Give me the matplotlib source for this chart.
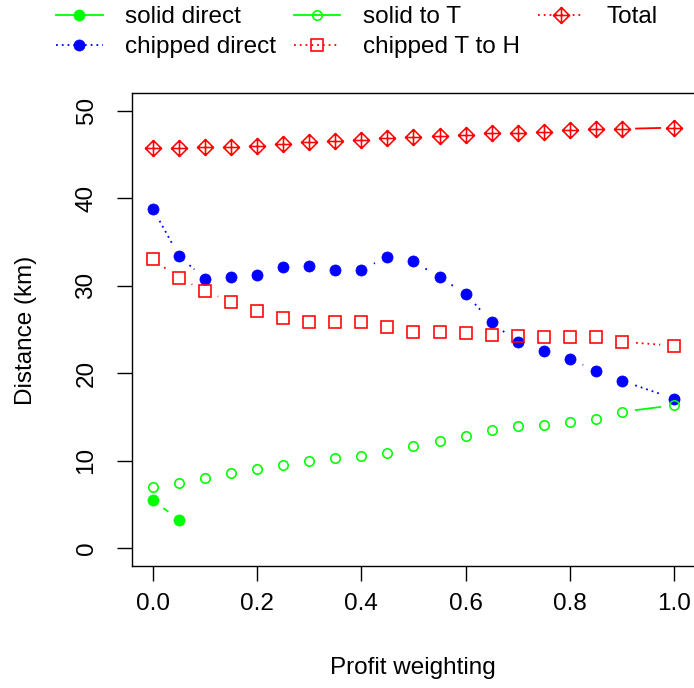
import numpy as np
import matplotlib
matplotlib.use('Agg')
import matplotlib.pyplot as plt
from matplotlib.path import Path
from matplotlib.lines import Line2D

plt.rcParams['font.family'] = ['Liberation Sans', 'DejaVu Sans']

# Profit weighting values (no run at 0.95)
weighting = [0.0, 0.05, 0.1, 0.15, 0.2, 0.25, 0.3, 0.35, 0.4, 0.45,
             0.5, 0.55, 0.6, 0.65, 0.7, 0.75, 0.8, 0.85, 0.9, 1.0]

# Distances (km)
solid_direct_w = [0.0, 0.05]
solid_direct = [5.5, 3.3]
solid_to_t = [7.05, 7.5, 8.1, 8.6, 9.1, 9.55, 9.95, 10.35, 10.6, 10.9,
              11.75, 12.25, 12.8, 13.55, 13.95, 14.15, 14.4, 14.8, 15.6, 16.35]
chipped_direct = [38.8, 33.4, 30.8, 31.0, 31.2, 32.15, 32.2, 31.8, 31.8, 33.3,
                  32.8, 30.95, 29.1, 25.8, 23.55, 22.55, 21.65, 20.3, 19.15, 17.1]
chipped_t_to_h = [33.05, 30.85, 29.45, 28.1, 27.15, 26.3, 25.85, 25.9, 25.8, 25.25,
                  24.75, 24.75, 24.55, 24.4, 24.3, 24.2, 24.2, 24.1, 23.6, 23.15]
total = [45.7, 45.7, 45.8, 45.85, 46.0, 46.2, 46.4, 46.5, 46.6, 46.85,
         46.95, 47.05, 47.25, 47.4, 47.45, 47.55, 47.75, 47.85, 47.9, 48.05]

GREEN = '#00ff00'
BLUE = '#0000ff'
RED = '#ff0000'
DOT = (0, (1, 2.2))

# diamond with a cross inside (like R pch 9)
diamond_plus = Path(
    [(0, 1), (1, 0), (0, -1), (-1, 0), (0, 1), (0, 1), (0, -1), (-1, 0), (1, 0)],
    [Path.MOVETO, Path.LINETO, Path.LINETO, Path.LINETO, Path.CLOSEPOLY,
     Path.MOVETO, Path.LINETO, Path.MOVETO, Path.LINETO])

fig = plt.figure(figsize=(6.94, 6.88), dpi=100)
ax = fig.add_axes([132 / 694, 1 - 566 / 688, 563 / 694, 473 / 688])
ax.set_xlim(-0.04, 1.04)
ax.set_ylim(-2, 52)


def gapped_line(ax, x, y, gap_px=14, **kw):
    """Line segments that stop short of each point, like R's type='b'."""
    pts = ax.transData.transform(np.column_stack([x, y]))
    inv = ax.transData.inverted()
    for p0, p1 in zip(pts[:-1], pts[1:]):
        d = p1 - p0
        length = np.hypot(*d)
        if length <= 2 * gap_px:
            continue
        u = d / length
        a = inv.transform(p0 + u * gap_px)
        b = inv.transform(p1 - u * gap_px)
        ax.plot([a[0], b[0]], [a[1], b[1]], **kw)


lw = 1.3
gapped_line(ax, solid_direct_w, solid_direct, color=GREEN, lw=lw)
gapped_line(ax, weighting, solid_to_t, color=GREEN, lw=lw)
gapped_line(ax, weighting, chipped_direct, color=BLUE, lw=lw, linestyle=DOT)
gapped_line(ax, weighting, chipped_t_to_h, color=RED, lw=lw, linestyle=DOT)
gapped_line(ax, weighting, total, color=RED, lw=lw)

styles = {
    'solid direct': dict(marker='o', ms=8.0, mfc=GREEN, mec=GREEN, mew=0.5),
    'chipped direct': dict(marker='o', ms=8.0, mfc=BLUE, mec=BLUE, mew=0.5),
    'solid to T': dict(marker='o', ms=6.8, mfc='none', mec=GREEN, mew=1.15),
    'chipped T to H': dict(marker='s', ms=8.0, mfc='none', mec=RED, mew=1.15),
    'Total': dict(marker=diamond_plus, ms=11.5, mfc='none', mec=RED, mew=1.15),
}
ax.plot(solid_direct_w, solid_direct, linestyle='none', **styles['solid direct'])
ax.plot(weighting, chipped_direct, linestyle='none', **styles['chipped direct'])
ax.plot(weighting, solid_to_t, linestyle='none', **styles['solid to T'])
ax.plot(weighting, chipped_t_to_h, linestyle='none', **styles['chipped T to H'])
ax.plot(weighting, total, linestyle='none', **styles['Total'])

ax.set_xticks([0.0, 0.2, 0.4, 0.6, 0.8, 1.0])
ax.set_xticklabels(['0.0', '0.2', '0.4', '0.6', '0.8', '1.0'])
ax.set_yticks([0, 10, 20, 30, 40, 50])
ax.tick_params(axis='both', direction='out', length=10.8, width=1.0,
               labelsize=17.5, colors='black')
ax.tick_params(axis='x', pad=9)
ax.tick_params(axis='y', pad=14)
for lab in ax.get_yticklabels():
    lab.set_rotation(90)
    lab.set_va('center')
for s in ax.spines.values():
    s.set_linewidth(1.0)

fig.text(413 / 694, 1 - 668 / 688, 'Profit weighting', fontsize=17.5,
         ha='center', va='center')
fig.text(26 / 694, 1 - 330 / 688, 'Distance (km)', fontsize=17.5,
         rotation=90, ha='center', va='center')

# legend, filled column-wise like R's ncol=3
handles = [
    Line2D([], [], color=GREEN, lw=lw, **styles['solid direct']),
    Line2D([], [], color=BLUE, lw=lw, linestyle=DOT, **styles['chipped direct']),
    Line2D([], [], color=GREEN, lw=lw, **styles['solid to T']),
    Line2D([], [], color=RED, lw=lw, linestyle=DOT, **styles['chipped T to H']),
    Line2D([], [], color=RED, lw=lw, linestyle=DOT, **styles['Total']),
]
labels = ['solid direct', 'chipped direct', 'solid to T', 'chipped T to H', 'Total']
fig.legend(handles, labels, ncol=3, loc='upper left',
           bbox_to_anchor=(56 / 694, 1 - 6 / 688), frameon=False,
           fontsize=17.5, borderpad=0, borderaxespad=0, handlelength=1.92,
           handletextpad=0.93, columnspacing=0.72, labelspacing=0.34,
           numpoints=1)

fig.savefig('out.png', dpi=100)
